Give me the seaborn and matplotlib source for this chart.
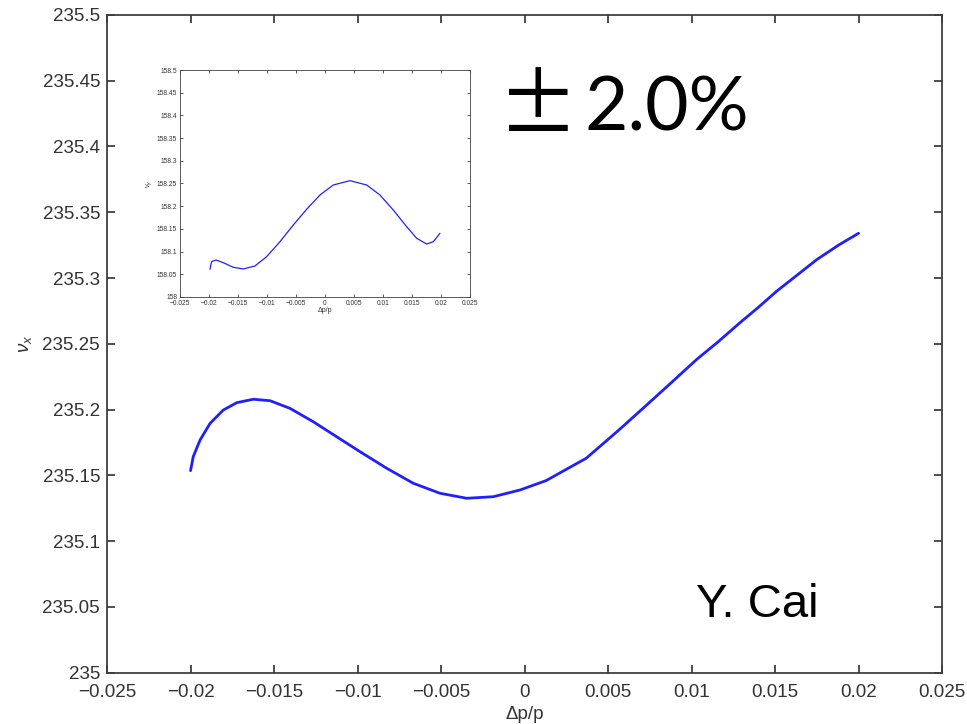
import matplotlib
matplotlib.use("Agg")
import matplotlib.pyplot as plt
import matplotlib.ticker as mticker
import seaborn as sns
import pandas as pd

# Main curve: horizontal tune vs momentum deviation
main_dp = [-0.0200, -0.01984, -0.01943, -0.01883, -0.01804, -0.01723, -0.01624, -0.01524,
           -0.01405, -0.01265, -0.01125, -0.00985, -0.00825, -0.00666, -0.00506, -0.00346,
           -0.00187, -0.00027, 0.0013, 0.0037, 0.0057, 0.0071, 0.0087, 0.0103,
           0.0116, 0.0129, 0.0140, 0.0151, 0.0163, 0.0175, 0.0188, 0.0200]
main_nux = [235.1535, 235.1641, 235.1768, 235.1895, 235.1996, 235.2052, 235.2078, 235.2067,
            235.2009, 235.1907, 235.1793, 235.1679, 235.1553, 235.1439, 235.1363, 235.1325,
            235.1337, 235.1388, 235.146, 235.163, 235.185, 235.201, 235.2194, 235.238,
            235.2516, 235.266, 235.2777, 235.290, 235.302, 235.314, 235.325, 235.334]

# Inset curve: vertical tune vs momentum deviation
inset_dp = [-0.01983, -0.01954, -0.01879, -0.01753, -0.01581, -0.01409, -0.01207, -0.01006,
            -0.00776, -0.00546, -0.00316, -0.00086, 0.00143, 0.00431, 0.00719, 0.00948,
            0.01178, 0.01409, 0.01581, 0.01753, 0.01868, 0.01983]
inset_nuy = [158.061, 158.078, 158.0815, 158.0756, 158.0654, 158.0617, 158.0683, 158.0888,
             158.1218, 158.1586, 158.1932, 158.2247, 158.2467, 158.2562, 158.2467, 158.2247,
             158.1916, 158.1548, 158.1293, 158.1167, 158.1218, 158.1403]

main_yticks = [235, 235.05, 235.1, 235.15, 235.2, 235.25, 235.3, 235.35, 235.4, 235.45, 235.5]
inset_yticks = [158, 158.05, 158.1, 158.15, 158.2, 158.25, 158.3, 158.35, 158.4, 158.45, 158.5]
xticks = [-0.025, -0.02, -0.015, -0.01, -0.005, 0, 0.005, 0.01, 0.015, 0.02, 0.025]

sns.set_theme(style="white")
plt.rcParams["font.family"] = ["Liberation Sans", "DejaVu Sans"]
plt.rcParams["mathtext.fontset"] = "custom"
plt.rcParams["mathtext.rm"] = "Liberation Sans"
plt.rcParams["mathtext.it"] = "Liberation Sans:italic"

def fmt(v, pos=None):
    s = f"{v:g}"
    return s.replace("-", "\u2212")

AX_COL = "#404040"
TXT_COL = "#333333"
LINE_COL = "#2020ff"

fig = plt.figure(figsize=(9.67, 7.24), dpi=100)
ax = fig.add_axes([0.1107, 0.0711, 0.8635, 0.9082])

df_main = pd.DataFrame({"dp": main_dp, "nux": main_nux})
sns.lineplot(data=df_main, x="dp", y="nux", ax=ax, color=LINE_COL, linewidth=2.0, sort=False)

def style_axes(a, xt, yt, fs, ticklen, lw, xpad, ypad, xlabel, ylabel, labsize, xlabpad, ylabpad):
    a.set_xlim(-0.025, 0.025)
    a.set_ylim(yt[0], yt[-1])
    a.set_xticks(xt)
    a.set_yticks(yt)
    a.xaxis.set_major_formatter(mticker.FuncFormatter(fmt))
    a.yaxis.set_major_formatter(mticker.FuncFormatter(fmt))
    a.tick_params(direction="in", length=ticklen, width=lw, colors=AX_COL,
                  labelcolor=TXT_COL, labelsize=fs, top=True, right=True,
                  bottom=True, left=True)
    a.tick_params(axis="x", pad=xpad)
    a.tick_params(axis="y", pad=ypad)
    for sp in a.spines.values():
        sp.set_visible(True)
        sp.set_color(AX_COL)
        sp.set_linewidth(lw)
    a.set_xlabel(xlabel, fontsize=labsize, color=TXT_COL, labelpad=xlabpad)
    a.set_ylabel(ylabel, fontsize=labsize, color=TXT_COL, labelpad=ylabpad)
    a.set_facecolor("white")

style_axes(ax, xticks, main_yticks, 13.5, 6, 1.3, 8, 5,
           "\u0394p/p", r"$\nu_x$", 13.5, 4, 0)
ax.yaxis.set_label_coords(-0.087, 0.5)

# Inset
axi = fig.add_axes([0.1861, 0.5898, 0.2999, 0.3135])
df_in = pd.DataFrame({"dp": inset_dp, "nuy": inset_nuy})
sns.lineplot(data=df_in, x="dp", y="nuy", ax=axi, color=LINE_COL, linewidth=0.9, sort=False)
style_axes(axi, xticks, inset_yticks, 4.8, 2.5, 0.6, 2, 2,
           "\u0394p/p", r"$\nu_y$", 5, 0, 2)

fig.text(0.515, 0.850, "\u00b1", fontsize=58, family=["Noto Sans CJK JP", "DejaVu Sans"],
         color="black", ha="left", va="center")
fig.text(0.604, 0.850, "2.0%", fontsize=54, family=["Lato", "DejaVu Sans"],
         color="black", ha="left", va="center")
fig.text(0.720, 0.165, "Y. Cai", fontsize=34, color="black", ha="left", va="center")

fig.savefig("out.png", dpi=100, facecolor="white")
